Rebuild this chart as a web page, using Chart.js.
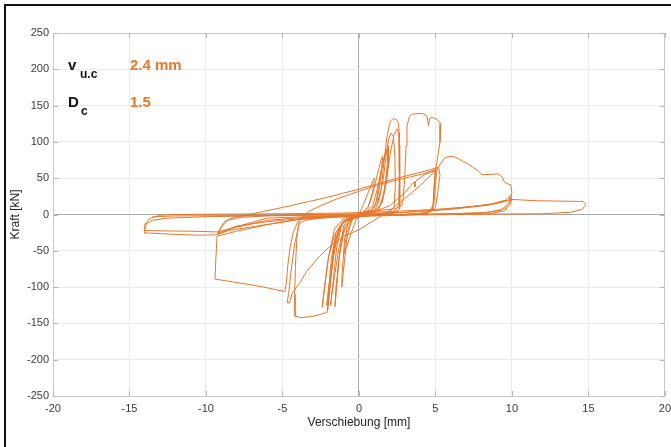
<!DOCTYPE html>
<html>
<head>
<meta charset="utf-8">
<script src="https://cdn.jsdelivr.net/npm/chart.js@4.4.0/dist/chart.umd.min.js"></script>
<style>
html, body { margin: 0; padding: 0; background: #fff; }
#wrap { position: relative; width: 671px; height: 447px; overflow: hidden; }
#frame { position: absolute; left: 4px; top: 4px; width: 700px; height: 500px;
  border-top: 2px solid #111; border-left: 2px solid #111; pointer-events: none; }
</style>
</head>
<body>
<div id="wrap"><canvas id="chart" width="671" height="447"></canvas><div id="frame"></div></div>
<script>
// Kraft-Verschiebungs-Kurve, Zyklen als [Verschiebung mm, Kraft kN]
const xTicks = [-20, -15, -10, -5, 0, 5, 10, 15, 20]
const yTicks = [-250, -200, -150, -100, -50, 0, 50, 100, 150, 200, 250]

const zyklus1 = [[0,0],[0.3,14],[0.6,30],[0.9,46],[1.0,50],[0.9,32],[0.6,10],[0.2,1],[-0.2,-8],[-0.5,-25],[-0.8,-45],[-1.0,-55],[-0.95,-35],[-0.7,-12],[-0.3,-2],[0.2,2]]
const zyklus2 = [[0.2,2],[0.6,10],[0.9,28],[1.2,55],[1.45,75],[1.55,80],[1.45,55],[1.2,20],[0.8,4],[0.2,-1],[-0.4,-6],[-0.8,-25],[-1.0,-55],[-1.1,-80],[-1.12,-100],[-1.0,-75],[-0.8,-35],[-0.5,-8],[0,1],[0.5,4]]
const zyklus3 = [[0.5,4],[0.9,12],[1.2,35],[1.5,65],[1.75,85],[1.95,94],[1.9,70],[1.65,30],[1.3,8],[0.7,0],[0,-3],[-0.6,-8],[-1.0,-25],[-1.3,-60],[-1.5,-100],[-1.57,-127],[-1.45,-100],[-1.25,-50],[-1.0,-15],[-0.5,-3],[0.3,3],[0.8,6]]
const zyklus3b = [[0.8,6],[1.1,15],[1.35,45],[1.6,75],[1.8,90],[1.9,85],[1.8,55],[1.55,20],[1.2,5],[0.5,-1],[-0.3,-5],[-0.9,-15],[-1.3,-45],[-1.6,-85],[-1.8,-115],[-1.85,-125],[-1.7,-95],[-1.45,-45],[-1.1,-12],[-0.5,-2],[0.4,3],[0.8,6]]
const zyklus4 = [[0.8,6],[1.2,14],[1.45,35],[1.65,75],[1.85,110],[2.05,128],[2.22,132],[2.45,131],[2.6,125],[2.65,95],[2.67,40],[2.66,8],[2.3,2],[1.4,0],[0.4,-2],[-0.5,-5],[-1.1,-12],[-1.5,-35],[-1.75,-70],[-1.95,-110],[-2.05,-132],[-2.0,-110],[-1.8,-60],[-1.5,-25],[-1.0,-8],[0,0],[1.0,5]]
const zyklus4b = [[1.0,5],[1.3,18],[1.6,50],[1.8,85],[1.95,105],[2.1,112],[2.25,108],[2.35,80],[2.38,40],[2.3,10],[1.8,2],[0.8,-1],[-0.3,-4],[-1.0,-10],[-1.6,-28],[-2.0,-60],[-2.25,-100],[-2.4,-128],[-2.3,-110],[-2.0,-60],[-1.6,-20],[-1.0,-5],[0,0],[1.0,5]]
const zyklus5 = [[1.0,5],[1.5,15],[1.8,45],[2.05,85],[2.3,110],[2.5,118],[2.62,112],[2.64,60],[2.6,12],[2.2,2],[1.0,-1],[0,-3],[-1.0,-10],[-1.5,-30],[-1.8,-70],[-2.0,-105],[-2.1,-125],[-1.95,-100],[-1.6,-50],[-1.2,-15],[-0.5,-2],[0.5,3],[1.5,6]]
const zyklus6 = [[1.5,6],[2.4,8],[2.85,14],[2.98,45],[3.08,95],[3.14,122],[3.3,135],[3.46,138],[3.8,139],[4.18,139],[4.45,135],[4.55,122],[4.62,132],[4.77,134],[5.1,131],[5.36,125],[5.3,100],[5.12,75],[4.97,58],[4.88,30],[4.84,8],[4.4,1],[3.0,-1],[1.0,-2],[-1.0,-3],[-2.5,-4],[-3.6,-4],[-3.9,-8],[-4.05,-30],[-4.15,-70],[-4.2,-110],[-4.18,-140],[-3.8,-142],[-3.2,-141],[-2.6,-138],[-2.09,-135],[-1.95,-115],[-1.8,-80],[-1.6,-45],[-1.3,-18],[-0.8,-6],[0,-1],[1.0,4]]
const zyklus7 = [[1.0,4],[2.0,12],[3.0,30],[3.6,45],[3.66,38],[3.7,46],[4.3,55],[4.9,60],[5.1,62],[5.0,40],[4.9,15],[4.6,3],[3,0],[1,-1],[-1,-3],[-2.5,-5],[-3.5,-8],[-3.9,-12],[-4.2,-40],[-4.45,-80],[-4.6,-110],[-4.7,-121],[-4.55,-122],[-4.35,-108],[-3.9,-95],[-3.4,-78],[-2.6,-58],[-1.9,-44],[-1.0,-30],[0,-21]]
const zyklus8 = [[0,-21],[1.0,-8],[2.0,5],[3.0,22],[4.0,40],[4.7,54],[5.1,62],[5.4,72],[5.62,78],[5.9,80],[6.14,80],[6.5,77],[6.8,73],[7.1,70],[7.45,65],[7.8,60],[8.04,55],[8.5,55],[9.08,56],[9.35,52],[9.54,44],[9.75,42],[9.93,41],[10.0,30],[9.9,18],[9.5,8],[8.5,3],[6,1],[3,0],[0,-1],[-2,-3],[-4,-7],[-6,-14],[-8,-23],[-9.28,-30],[-9.35,-60],[-9.41,-89],[-8.5,-92],[-7,-97],[-6,-101],[-4.84,-106],[-4.75,-95],[-4.65,-70],[-4.5,-45],[-4.3,-25],[-4.0,-10],[-3.7,-4]]
const zyklus9 = [[-3.7,-4],[-3.3,4],[-2.5,12],[-1.5,21],[0,32],[1.4,42],[3,50],[4.2,56],[5,62],[4.95,45],[4.88,20],[4.8,5],[4,1],[2,-1],[0,-2],[-2,-4],[-4,-7],[-5.2,-11],[-7,-17],[-8.5,-22],[-9.25,-27],[-9.1,-20],[-8.8,-10],[-8.2,-4],[-7.2,0],[-6.5,3],[-4.5,12],[-2,24],[0,35],[2.5,50],[4,58],[5.2,65],[5.3,55],[5.15,30],[5.0,10],[4.5,2],[3,0],[0,-1]]
const zyklus10 = [[0,-1],[-3,-3],[-6,-8],[-8.5,-20],[-9.2,-26],[-9.0,-18],[-8.6,-8],[-7.8,-4],[-6,-2],[-3,-1],[0,0],[3,3],[6,7],[8.5,13],[9.6,20],[9.9,26],[9.8,16],[9.3,6],[8,2],[5,0.5],[2,0],[0,-1]]
const zyklus11 = [[0,-1],[-3,-4],[-6,-10],[-8,-16],[-9.3,-28],[-10.5,-28.5],[-12,-27.5],[-13.2,-26],[-14.05,-25.3],[-14.0,-14],[-13.7,-6],[-13.05,-1],[-12,0],[-9,0.5],[-5,1],[-1,2],[2,4],[5,7],[7.5,11],[9,15],[9.7,19],[10,23],[9.9,14],[9.5,5],[8.5,1],[6,0],[2,-1],[-2,-2],[-6,-5],[-9.2,-24],[-11,-23],[-13,-22.5],[-14.05,-22],[-13.9,-13],[-13.5,-8],[-12.5,-5],[-10,-3],[-7,-2],[-3,0],[0,1],[3,3],[6,8],[8.5,14],[9.6,19],[10,20.7],[11.6,19],[13,18.5],[14.64,18],[14.84,14],[14.6,7],[13.8,3],[12,1],[8,0.5],[4,0],[0,-0.5],[-4,-1],[-8,-1.5],[-12,-2],[-13.5,-3]]

const zyklen = [zyklus1, zyklus2, zyklus3, zyklus3b, zyklus4, zyklus4b, zyklus5, zyklus6, zyklus7, zyklus8, zyklus9, zyklus10, zyklus11]

const orange = '#e8772a'

const datasets = zyklen.map(z => ({
    data: z.map(p => ({ x: p[0], y: p[1] })),
    borderColor: orange,
    borderWidth: 1,
    pointRadius: 0,
    showLine: true,
    fill: false,
    tension: 0
}))

function gitterFarbe(ctx, min, max) {
    const v = ctx.tick.value
    if (v === 0) return '#a9a9a9'
    if (v === min || v === max) return '#c9c9c9'
    return '#ebebeb'
}

// kleine Teilstriche nach innen, wie im Original
const innenTicks = {
    id: 'innenTicks',
    beforeDatasetsDraw(chart) {
        const { ctx, chartArea: a, scales: { x, y } } = chart
        ctx.save()
        ctx.strokeStyle = '#b5b5b5'
        ctx.lineWidth = 1
        ctx.beginPath()
        xTicks.forEach(v => {
            const px = Math.round(x.getPixelForValue(v)) + 0.5
            ctx.moveTo(px, a.bottom); ctx.lineTo(px, a.bottom - 5)
            ctx.moveTo(px, a.top); ctx.lineTo(px, a.top + 5)
        })
        yTicks.forEach(v => {
            const py = Math.round(y.getPixelForValue(v)) + 0.5
            ctx.moveTo(a.left, py); ctx.lineTo(a.left + 5, py)
            ctx.moveTo(a.right, py); ctx.lineTo(a.right - 5, py)
        })
        ctx.stroke()
        ctx.restore()
    }
}

const beschriftung = {
    id: 'beschriftung',
    afterDraw(chart) {
        const ctx = chart.ctx
        ctx.save()
        ctx.textBaseline = 'alphabetic'
        ctx.fillStyle = '#111'
        ctx.font = 'bold 15px "Liberation Sans", Arial, sans-serif'
        ctx.fillText('v', 68, 70)
        ctx.fillText('D', 68, 107)
        ctx.font = 'bold 12px "Liberation Sans", Arial, sans-serif'
        ctx.fillText('u.c', 80, 78)
        ctx.fillText('c', 81, 115)
        ctx.fillStyle = orange
        ctx.font = 'bold 15px "Liberation Sans", Arial, sans-serif'
        ctx.fillText('2.4 mm', 130, 70)
        ctx.fillText('1.5', 130, 107)
        ctx.restore()
    }
}

const schrift = { family: '"Liberation Sans", Arial, sans-serif', size: 11 }

new Chart(document.getElementById('chart'), {
    type: 'scatter',
    data: { datasets },
    options: {
        responsive: false,
        animation: false,
        devicePixelRatio: 1,
        layout: { padding: { left: 0, top: 33, right: 6, bottom: 0 } },
        plugins: { legend: { display: false }, tooltip: { enabled: false } },
        scales: {
            x: {
                type: 'linear', min: -20, max: 20,
                afterFit: s => { s.height = 51 },
                afterBuildTicks: s => { s.ticks = xTicks.map(v => ({ value: v })) },
                ticks: { color: '#3a3a3a', font: schrift, padding: 0, maxRotation: 0 },
                grid: { color: c => gitterFarbe(c, -20, 20), drawTicks: true, tickLength: 6, tickColor: 'rgba(0,0,0,0)' },
                border: { color: '#c9c9c9' },
                title: { display: true, text: 'Verschiebung [mm]', color: '#222',
                    font: { family: schrift.family, size: 12 }, padding: { top: 0, bottom: 17 } }
            },
            y: {
                type: 'linear', min: -250, max: 250,
                afterFit: s => { s.width = 53 },
                afterBuildTicks: s => { s.ticks = yTicks.map(v => ({ value: v })) },
                ticks: { color: '#3a3a3a', font: schrift, padding: 4 },
                grid: { color: c => gitterFarbe(c, -250, 250), drawTicks: false },
                border: { color: '#c9c9c9' },
                title: { display: true, text: 'Kraft [kN]', color: '#222',
                    font: { family: schrift.family, size: 12 }, padding: { top: 8, bottom: 0 } }
            }
        }
    },
    plugins: [innenTicks, beschriftung]
})
</script>
</body>
</html>
